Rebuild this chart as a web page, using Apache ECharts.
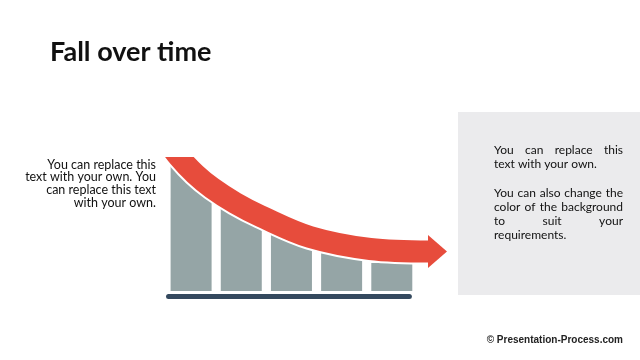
<!DOCTYPE html>
<html><head><meta charset="utf-8">
<script src="https://cdn.jsdelivr.net/npm/echarts@6/dist/echarts.min.js"></script>
<style>html,body{margin:0;padding:0;background:#fff}#c{width:640px;height:360px}</style>
</head><body><div id="c"></div>
<script>
// ---- data ----
const barPositions = [1, 2, 3, 4, 5];
const barLeftHeights = [128, 86, 57, 39, 28];
const barRightHeights = [93, 61, 43, 33, 28];
const trendX = [0.48, 0.76, 1.08, 1.42, 1.88, 2.38, 3.37, 4.57, 5.76];
const trendY = [153, 134, 117, 103, 88, 75, 54, 42, 39.5];
const arrowTip = [6.10, 39.5];
const baselineRange = [0.5, 5.4];
const titleText = 'Fall over time';
const leftNote = ['You can replace this', 'text with your own. You', 'can replace this text', 'with your own.'];
const panelParagraphs = [
  ['You can replace this', 'text with your own.'],
  ['You can also change the', 'color of the background', 'to suit your', 'requirements.']
];
const footerText = '\u00A9 Presentation-Process.com';

// ---- styles ----
const BAR_COLOR = '#95a5a6';
const ARROW_COLOR = '#e74c3c';
const BASE_COLOR = '#34495e';
const PANEL_COLOR = '#ebebed';

const chart = echarts.init(document.getElementById('c'), null, {renderer: 'canvas'});

function renderBar(params, api) {
  const x = api.value(0);
  const c = api.coord([x, 0]);
  const yl = api.coord([x, api.value(1)])[1];
  const yr = api.coord([x, api.value(2)])[1];
  const hw = 20.5;
  return {
    type: 'polygon',
    shape: {points: [[c[0] - hw, c[1]], [c[0] - hw, yl], [c[0] + hw, yr], [c[0] + hw, c[1]]]},
    style: {fill: BAR_COLOR}
  };
}

function renderBase(params, api) {
  const a = api.coord([api.value(0), -3]);
  const b = api.coord([api.value(1), -8]);
  return {
    type: 'rect',
    shape: {x: a[0], y: a[1], width: b[0] - a[0], height: b[1] - a[1], r: 2.5},
    style: {fill: BASE_COLOR}
  };
}

function renderArrow(params, api) {
  const pts = trendX.map((x, i) => api.coord([x, trendY[i]]));
  const tip = api.coord(arrowTip);
  const hl = 19, hh = 16.5;
  return {
    type: 'group',
    children: [
      {type: 'polyline', shape: {points: pts, smooth: 0.35}, style: {stroke: '#ffffff', lineWidth: 26, fill: null}},
      {type: 'polyline', shape: {points: pts, smooth: 0.35}, style: {stroke: ARROW_COLOR, lineWidth: 22, fill: null}},
      {type: 'polygon', shape: {points: [[tip[0] - hl, tip[1] - hh], [tip[0], tip[1]], [tip[0] - hl, tip[1] + hh]]}, style: {fill: ARROW_COLOR}}
    ]
  };
}

// ---- text graphics ----
const graphics = [];
graphics.push({type: 'rect', left: 458, top: 112, shape: {width: 182, height: 183}, style: {fill: PANEL_COLOR}, z: 0});

function midY(baseline, fs) { return baseline - 0.387 * fs; }

graphics.push({type: 'text', x: 50, y: midY(62.7, 27), style: {text: titleText, font: 'bold 27px Lato', fill: '#111111', align: 'left', verticalAlign: 'middle'}});

const leftBaselines = [169.5, 182.2, 194.9, 207.6];
leftNote.forEach((t, i) => {
  graphics.push({type: 'text', x: 156, y: midY(leftBaselines[i], 12.5), style: {text: t, font: '12.5px Lato', fill: '#111111', align: 'right', verticalAlign: 'middle'}});
});

const panelFont = '12px Lato';
const ctx = document.createElement('canvas').getContext('2d');
ctx.font = panelFont;
const panelLeft = 494, panelRight = 623;
const panelBaselines = [[155, 169.2], [197.6, 211.8, 226, 240.2]];
panelParagraphs.forEach((para, pi) => {
  para.forEach((line, li) => {
    const y = midY(panelBaselines[pi][li], 12);
    const justify = li < para.length - 1;
    if (!justify) {
      graphics.push({type: 'text', x: panelLeft, y: y, style: {text: line, font: panelFont, fill: '#111111', align: 'left', verticalAlign: 'middle'}});
      return;
    }
    const words = line.split(' ');
    const widths = words.map(w => ctx.measureText(w).width);
    const total = widths.reduce((s, w) => s + w, 0);
    const gap = (panelRight - panelLeft - total) / (words.length - 1);
    let x = panelLeft;
    words.forEach((w, wi) => {
      graphics.push({type: 'text', x: x, y: y, style: {text: w, font: panelFont, fill: '#111111', align: 'left', verticalAlign: 'middle'}});
      x += widths[wi] + gap;
    });
  });
});

graphics.push({type: 'text', x: 623, y: midY(344, 10), style: {text: footerText, font: 'bold 10px "Liberation Sans", Arial', fill: '#222222', align: 'right', verticalAlign: 'middle'}});

chart.setOption({
  animation: false,
  backgroundColor: '#ffffff',
  grid: {left: 161, right: 188, top: 157, bottom: 60},
  xAxis: {type: 'value', min: 0.4, max: 6.2, show: false},
  yAxis: {type: 'value', min: -9, max: 134, show: false},
  graphic: graphics,
  series: [
    {type: 'custom', name: 'bars', renderItem: renderBar, z: 2, clip: false,
     data: barPositions.map((x, i) => [x, barLeftHeights[i], barRightHeights[i]])},
    {type: 'custom', name: 'baseline', renderItem: renderBase, z: 2, clip: false,
     data: [[baselineRange[0], baselineRange[1]]]},
    {type: 'custom', name: 'trend', renderItem: renderArrow, z: 3, clip: true,
     data: [[trendX[0], trendY[0]]]}
  ]
});
</script>
</body></html>
